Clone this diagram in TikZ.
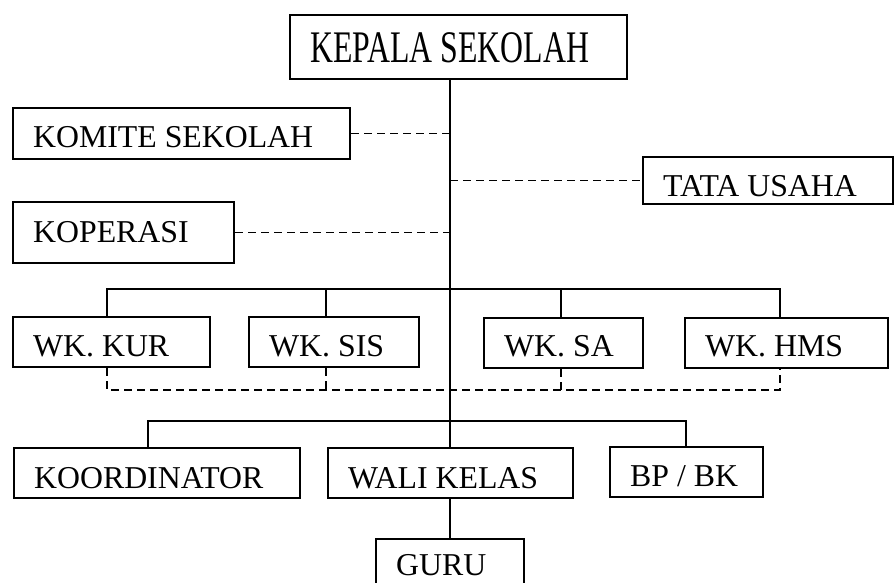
\documentclass[tikz,border=0pt]{standalone}
\usepackage{fontspec}
\usepackage{graphicx}
\setmainfont{Liberation Serif}
\tikzset{
  box/.style={draw, line width=2.1pt, rectangle, inner sep=0pt, anchor=north west},
  lbl/.style={inner sep=0pt, anchor=base west, font=\fontsize{31.8}{36}\selectfont},
  conn/.style={line width=1.7pt},
  dsh/.style={line width=1.7pt, dash pattern=on 8pt off 5pt},
}
\newcommand\orgbox[7]{%
  \node[box, minimum width={#4-#2}, minimum height={#5-#3}] (#1) at (#2,#3) {};
  \node[lbl] (#1-t) at ([xshift=21pt,yshift=-#6pt]#1.north west) {#7};
}
\begin{document}
\begin{tikzpicture}[x=1pt,y=-1pt]
\useasboundingbox (0,0) rectangle (894,583);
\clip (0,0) rectangle (894,583);
\fill[white] (0,0) rectangle (894,583);

% boxes
\orgbox{kepala}{289}{14}{626}{78}{49}{\scalebox{1}[1.42]{KEPALA SEKOLAH}}
\orgbox{komite}{12}{107}{349}{158}{41}{KOMITE SEKOLAH}
\orgbox{tata}{642}{156}{892}{203}{40}{TATA USAHA}
\orgbox{kop}{12}{201}{233}{262}{41}{KOPERASI}
\orgbox{kur}{12}{316}{209}{366}{40}{WK. KUR}
\orgbox{sis}{248}{316}{418}{366}{40}{WK. SIS}
\orgbox{sa}{483}{317}{642}{367}{39.5}{WK. SA}
\orgbox{hms}{684}{317}{887}{367}{39.5}{WK. HMS}
\orgbox{koord}{13}{447}{299}{497}{41}{KOORDINATOR}
\orgbox{wali}{327}{447}{572}{497}{41}{WALI KELAS}
\orgbox{bpbk}{609}{446}{762}{496}{40}{BP / BK}
\orgbox{guru}{375}{538}{523}{600}{37}{GURU}

% helper coordinates
\coordinate (spine) at (450,0);
\coordinate (b1) at (107,289);
\coordinate (b2) at (326,289);
\coordinate (b3) at (561,289);
\coordinate (b4) at (780,289);
\coordinate (c1) at (107,390);
\coordinate (c2) at (326,390);
\coordinate (c3) at (561,390);
\coordinate (c4) at (780,390);
\coordinate (e1) at (148,421);
\coordinate (e3) at (686,421);

% main spine
\draw[conn] (kepala.south -| spine) -- (wali.north -| spine);
\draw[conn] (wali.south -| spine) -- (guru.north -| spine);

% staff links (dashed)
\draw[dsh] (komite.east) -- (komite.east -| spine);
\draw[dsh] (kop.east) -- (kop.east -| spine);
\draw[dsh] (tata.west -| spine) -- (tata.west);

% vice principals
\draw[conn] (kur.north -| b1) -- (b1) -- (b4) -- (hms.north -| b4);
\draw[conn] (b2) -- (sis.north -| b2);
\draw[conn] (b3) -- (sa.north -| b3);
\draw[dsh] (kur.south -| c1) -- (c1) -- (c4) -- (hms.south -| c4);
\draw[dsh] (sis.south -| c2) -- (c2);
\draw[dsh] (sa.south -| c3) -- (c3);

% bottom row
\draw[conn] (koord.north -| e1) -- (e1) -- (e3) -- (bpbk.north -| e3);
\end{tikzpicture}
\end{document}
